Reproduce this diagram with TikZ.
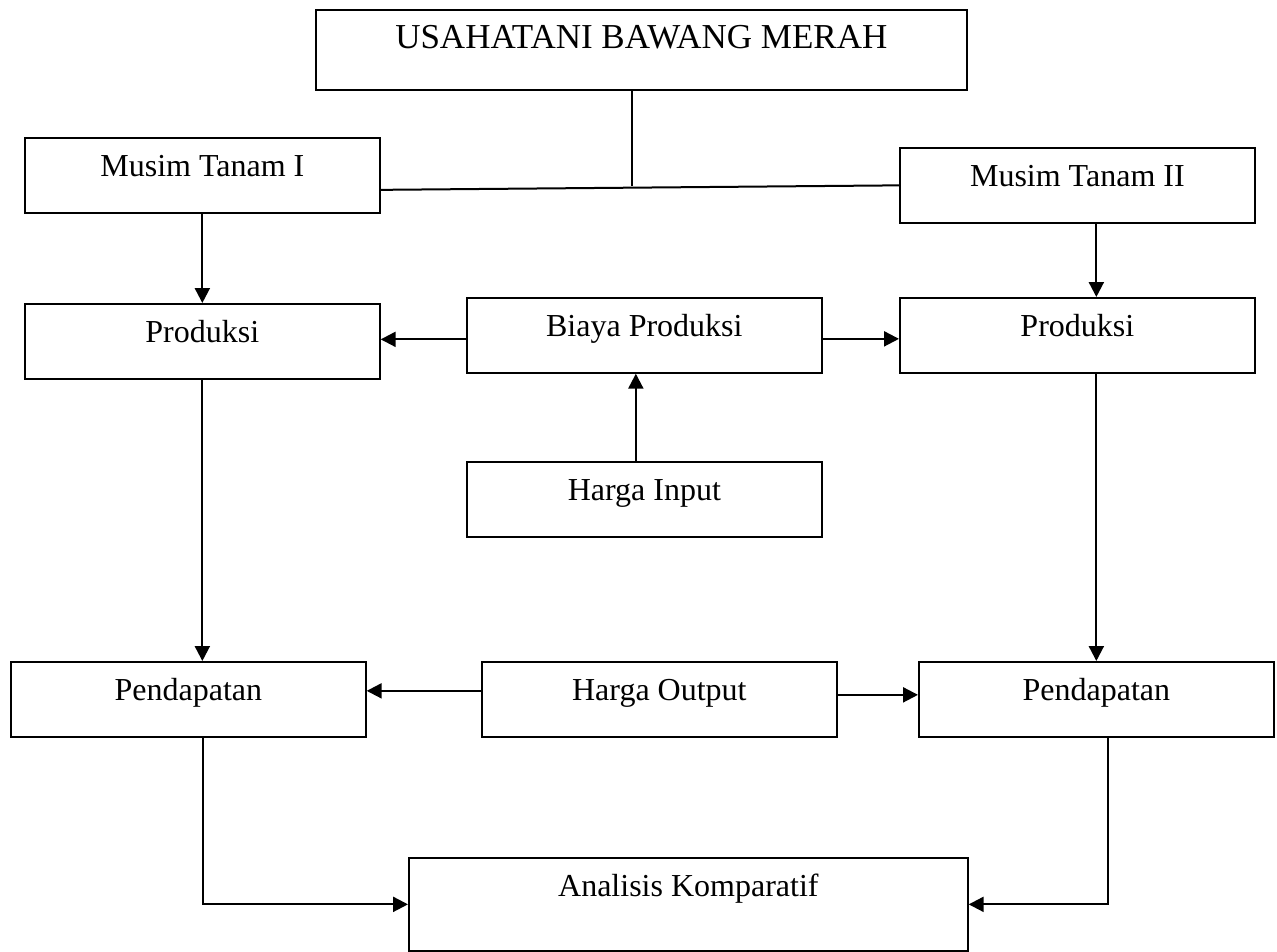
\documentclass[tikz,border=0pt]{standalone}
\usepackage{fontspec}
\setmainfont{Liberation Serif}
\usetikzlibrary{arrows.meta}

\begin{document}
\begin{tikzpicture}[x=1pt,y=-1pt,
  kotak/.style={draw,line width=1.7pt,inner sep=0pt,anchor=north west,
    minimum width=#1,text height=39pt,text depth=36pt,
    font=\fontsize{32}{38}\selectfont},
  kotak/.default=355pt,
  panah/.style={line width=2.2pt,-{Triangle[length=15pt,width=15pt]}},
  garis/.style={line width=1.6pt}]
\useasboundingbox (0,0) rectangle (1277,951);
\node[kotak=651pt,text depth=41pt,font=\fontsize{35}{40}\selectfont] (U) at (315,9) {USAHATANI BAWANG MERAH};
\node[kotak] (M1) at (24,137) {Musim Tanam I};
\node[kotak] (M2) at (899,147) {Musim Tanam II};
\node[kotak] (P1) at (24,303) {Produksi};
\node[kotak] (B) at (466,297) {Biaya Produksi};
\node[kotak] (P2) at (899,297) {Produksi};
\node[kotak] (HI) at (466,461) {Harga Input};
\node[kotak] (D1) at (10,661) {Pendapatan};
\node[kotak] (HO) at (481,661) {Harga Output};
\node[kotak] (D2) at (918,661) {Pendapatan};
\node[kotak=559pt,text depth=54pt] (A) at (408,857) {Analisis Komparatif};
\coordinate (junc) at (632,186);
% cabang musim tanam
\draw[garis] (junc |- U.south) -- (junc);
\draw[garis,line width=2pt] ([yshift=-14.5pt]M1.east) -- (M2.west);
\draw[panah] (M1.south) -- (P1.north);
\draw[panah] ([xshift=19pt]M2.south) -- ([xshift=19pt]M2.south |- P2.north);
% biaya dan harga
\draw[panah] ([yshift=-4pt]B.west) -- ([yshift=-4pt]B.west -| P1.east);
\draw[panah] ([yshift=-3.5pt]B.east) -- ([yshift=-3.5pt]B.east -| P2.west);
\draw[panah] ([xshift=-8.5pt]HI.north) -- ([xshift=-8.5pt]HI.north |- B.south);
\draw[panah] (P1.south) -- (P1.south |- D1.north);
\draw[panah] ([xshift=19pt]P2.south) -- ([xshift=19pt]P2.south |- D2.north);
\draw[panah] ([yshift=8.5pt]HO.west) -- ([yshift=8.5pt]HO.west -| D1.east);
\draw[panah] ([yshift=4.5pt]HO.east) -- ([yshift=4.5pt]HO.east -| D2.west);
% ke analisis
\draw[panah] ([xshift=14.5pt]D1.south) |- (A.west);
\draw[panah] ([xshift=11.5pt]D2.south) |- (A.east);
\end{tikzpicture}
\end{document}
